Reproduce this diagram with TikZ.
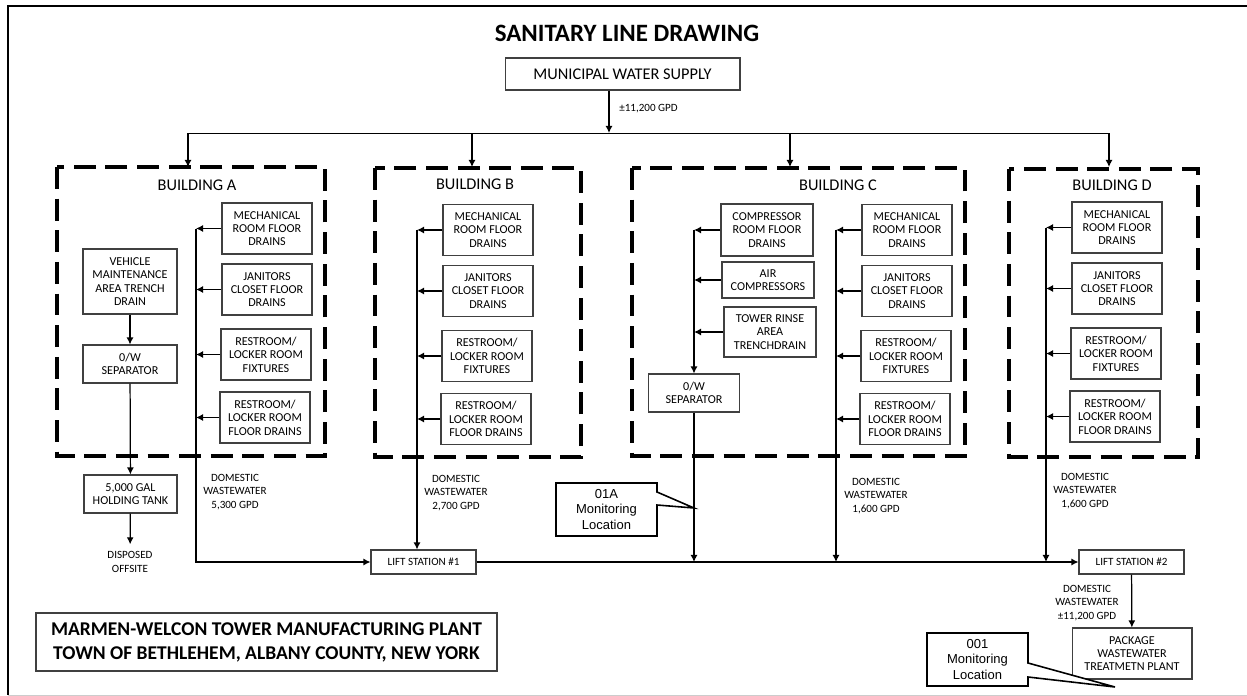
\documentclass[tikz,border=0pt]{standalone}
\usepackage{fontspec}
\setmainfont{Carlito}
\newfontfamily\arialfont{Liberation Sans}
\usetikzlibrary{arrows.meta}

\begin{document}
\begin{tikzpicture}[x=0.02cm, y=-0.02cm,
  box/.style={draw=black!75, line width=0.6pt, align=center, inner sep=0pt, font=\fontsize{6.9}{7.6}\selectfont},
  drain/.style={box, minimum width=1.8cm, minimum height=1.02cm},
  lbl/.style={align=center, inner sep=0pt, font=\fontsize{6.3}{7.6}\selectfont},
  bldg/.style={line width=2.2pt, dash pattern=on 12.5pt off 5.5pt},
  bname/.style={inner sep=0pt, font=\fontsize{9.3}{11}\selectfont},
  pipe/.style={line width=0.7pt},
  flow/.style={pipe, -{Latex[length=4pt,width=4pt]}},
  callout/.style={draw, line width=0.9pt, fill=white},
  mtext/.style={align=center, inner sep=0pt, font=\arialfont\fontsize{7.4}{8.8}\selectfont}]
  \useasboundingbox (0,0) rectangle (1247,696);
  \draw[line width=1.7pt] (8,695) -- (8,6) -- (1247,6); %frame%
  \draw[black!20, line width=0.5pt] (8,695) -- (1247,695);

  \node[font=\bfseries\fontsize{14.2}{17}\selectfont] (title) at (627,33) {SANITARY LINE DRAWING};
  \node[box, minimum width=4.7cm, minimum height=0.64cm, font=\fontsize{9.3}{11}\selectfont] (muni) at (622.5,74) {MUNICIPAL WATER SUPPLY};

  %water supply to the buildings%
  \coordinate (tee) at (609,133);
  \draw[flow] (muni.south -| tee) -- (tee);
  \node[lbl, anchor=west] (supply) at (619,109) {±11,200 GPD};
  \foreach \b/\x in {A/188, B/472, C/790, D/1109}
    \coordinate (in\b) at (\x,167);
  \draw[pipe, line width=0.5pt] (inA |- tee) -- (inD |- tee);
  \foreach \b in {A,B,C,D}
    \draw[flow] (in\b |- tee) -- (in\b);

  %buildings%
  \draw[bldg] (57,167) rectangle (325,456);
  \draw[bldg] (375,168) rectangle (581,457);
  \draw[bldg] (632,168) rectangle (965,456);
  \draw[bldg] (1009,169) rectangle (1198,457);
  \node[bname] (bA) at (197,185) {BUILDING A};
  \node[bname] (bB) at (475,184) {BUILDING B};
  \node[bname] (bC) at (838,185) {BUILDING C};
  \node[bname] (bD) at (1112,185) {BUILDING D};

  \foreach \b/\x/\y in {A/267/228.5, B/488/230, C/907/230, D/1117/227.5} {
    \node[drain] (mech\b) at (\x,\y) {MECHANICAL\\ROOM FLOOR\\DRAINS};
    \node[drain] (jan\b) at (\x,\y+61) {JANITORS\\CLOSET FLOOR\\DRAINS};
    \node[drain] (fix\b) at (\x-1,\y+126) {RESTROOM/\\LOCKER ROOM\\FIXTURES};
    \node[drain] (flr\b) at (\x-2,\y+189) {RESTROOM/\\LOCKER ROOM\\FLOOR DRAINS};
    \coordinate (col\b) at (\x-71,\y);
    \foreach \n in {mech,jan,fix,flr}
      \draw[flow] (\n\b.west) -- (\n\b.west -| col\b);
  }

  %building A trench drain%
  \node[box, minimum width=1.88cm, minimum height=1.3cm] (veh) at (130,281.5) {VEHICLE\\MAINTENANCE\\AREA TRENCH\\DRAIN};
  \node[box, minimum width=1.88cm, minimum height=0.76cm] (owA) at (130,364) {0/W\\SEPARATOR};
  \node[box, minimum width=1.86cm, minimum height=0.76cm] (tank) at (130.5,494) {5,000 GAL\\HOLDING TANK};
  \node[lbl, inner sep=4pt] (offsite) at (130,562) {DISPOSED\\OFFSITE};
  \draw[flow] (veh) -- (owA);
  \draw[flow] (owA) -- (tank);
  \draw[flow] (tank) -- (offsite);

  %building C compressor side%
  \node[box, minimum width=1.84cm, minimum height=1.04cm] (comp) at (767,230) {COMPRESSOR\\ROOM FLOOR\\DRAINS};
  \node[box, minimum width=1.84cm, minimum height=0.72cm] (air) at (768,280) {AIR\\COMPRESSORS};
  \node[box, minimum width=1.84cm, minimum height=1.0cm] (rinse) at (770,332) {TOWER RINSE\\AREA\\TRENCHDRAIN};
  \node[box, minimum width=1.82cm, minimum height=0.76cm] (owC) at (694,393) {0/W\\SEPARATOR};
  \coordinate (colCL) at (694,230);
  \foreach \n in {comp,air,rinse}
    \draw[flow] (\n.west) -- (\n.west -| colCL);
  \draw[flow] (colCL) -- (owC.north);

  %lift stations%
  \node[box, minimum width=2.1cm, minimum height=0.48cm, font=\fontsize{6.3}{7.6}\selectfont] (ls1) at (423.5,562) {LIFT STATION \#1};
  \node[box, minimum width=2.1cm, minimum height=0.48cm, font=\fontsize{6.3}{7.6}\selectfont] (ls2) at (1131.5,562) {LIFT STATION \#2};
  \node[box, minimum width=2.4cm, minimum height=1.02cm] (plant) at (1132,653.5) {PACKAGE\\WASTEWATER\\TREATMETN PLANT};
  \draw[flow] (colA) -- (colA |- ls1.west) -- (ls1.west);
  \draw[flow] (colB) -- (colB |- ls1.north);
  \draw[flow] (ls1.east) -- (ls2.west);
  \draw[flow] (owC.south) -- (owC.south |- ls1.east);
  \draw[flow] (colC) -- (colC |- ls1.east);
  \draw[flow] (colD) -- (colD |- ls1.east);
  \draw[flow] (ls2) -- (plant);

  \node[lbl] (wwA) at (235,492) {DOMESTIC\\WASTEWATER\\5,300 GPD};
  \node[lbl] (wwB) at (456,493) {DOMESTIC\\WASTEWATER\\2,700 GPD};
  \node[lbl] (wwC) at (876,496) {DOMESTIC\\WASTEWATER\\1,600 GPD};
  \node[lbl] (wwD) at (1085,491) {DOMESTIC\\WASTEWATER\\1,600 GPD};
  \node[lbl] (wwT) at (1087,603) {DOMESTIC\\WASTEWATER\\±11,200 GPD};

  %monitoring locations%
  \draw[callout] (556,483) -- (657,483) -- (657,492) -- (694,508) -- (657,505) -- (657,536) -- (556,536) -- cycle;
  \node[mtext] (m01A) at (606.5,509.5) {01A\\Monitoring\\Location};
  \draw[callout] (927,633) -- (1028,633) -- (1028,663) -- (1115,687) -- (1028,677) -- (1028,686) -- (927,686) -- cycle;
  \node[mtext] (m001) at (977.5,659.5) {001\\Monitoring\\Location};

  \node[draw=black!75, line width=0.7pt, minimum width=9.22cm, minimum height=1.16cm, align=center,
    font=\bfseries\fontsize{11.1}{13.6}\selectfont] (site) at (266.5,642) {MARMEN-WELCON TOWER MANUFACTURING PLANT\\TOWN OF BETHLEHEM, ALBANY COUNTY, NEW YORK};
\end{tikzpicture}
\end{document}
